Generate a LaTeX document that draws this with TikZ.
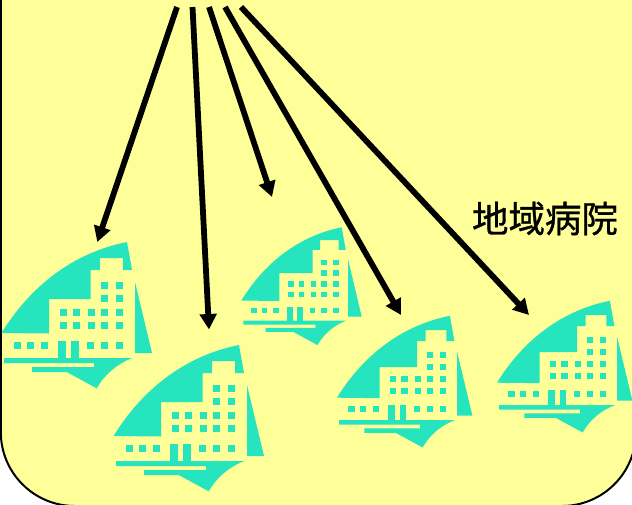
\documentclass[tikz,border=0pt]{standalone}
\usepackage{fontspec}
\newfontfamily\cjk[FakeBold=0.9]{Noto Sans CJK JP}
\usetikzlibrary{arrows.meta}
\definecolor{panelyellow}{HTML}{FFFF99}
\definecolor{hospteal}{HTML}{26E4BE}
\tikzset{
  panel/.style={fill=panelyellow,draw=black,line width=2pt,rounded corners=74pt},
  hosp/.style={fill=hospteal,draw=none},
  pointer/.style={draw=black,line width=5.8pt,-{Triangle[length=15.5pt,width=16.5pt]},shorten >=0pt},
  caption/.style={font=\cjk\fontsize{36.5}{40}\selectfont,inner sep=0pt,text=black}
}
\tikzset{
  hospital/.pic={
    \fill[hosp] (1.5,333) .. controls (30,287) and (72,253) .. (127,242)
      -- (132,270) -- (123,270) -- (123,258) -- (100,258) -- (100,270) -- (90.5,270)
      -- (90.5,299) -- (49,299) -- (49,333.5) -- cycle;
    \fill[hosp] (135,282) -- (152,353) -- (135,353) -- cycle;
    \foreach \wx/\wy in {101/282,116/282,101/295,116/295,
        60/309,73/309,88/309,101/309,116/309,
        60/322,73/322,88/322,101/322,116/322,
        14/342,27/342,41/342,87/342,101/342,116/342}
      \fill[hosp] (\wx,\wy) rectangle ++(7,7);
    \fill[hosp] (58,341) rectangle (66,358);
    \fill[hosp] (71,341) rectangle (78.5,358);
    \fill[hosp] (4,358) -- (132.3,358) .. controls (117,364) and (105,374) .. (96.7,388.3)
      -- (66.7,372) -- (32,372) -- (32,367) -- (94,367) -- (94,363) -- (4,363) -- cycle;
  }
}
\begin{document}
\begin{tikzpicture}[x=1pt,y=-1pt]
\useasboundingbox (0,0) rectangle (632,504);
\begin{scope}
\clip (0,0) rectangle (632,504);
\fill[white] (0,0) rectangle (632,504);
\path[panel] (0.8,-120) rectangle (636,506);
\end{scope}
\pic at (0,0) {hospital};
\pic[shift={(112,103)}] at (0,0) {hospital};
\pic[shift={(240.1,32.5)},xscale=.8,yscale=.805] at (0,0) {hospital};
\pic[shift={(335.6,98)},scale=.9] at (0,0) {hospital};
\begin{scope}
\clip (0,0) rectangle (632,504);
\pic[shift={(495.6,83)},scale=.9] at (0,0) {hospital};
\end{scope}
\coordinate (s1) at (177,7); \coordinate (t1) at (97.3,242);
\coordinate (s2) at (192.5,7); \coordinate (t2) at (209,329.5);
\coordinate (s3) at (209,7); \coordinate (t3) at (272,197);
\coordinate (s4) at (225,7); \coordinate (t4) at (401,315);
\coordinate (s5) at (241,7); \coordinate (t5) at (529,315);
\foreach \i in {1,...,5} \draw[pointer] (s\i) -- (t\i);
\node[caption,anchor=center] (label) at (545,218.5) {地域病院};
\end{tikzpicture}
\end{document}
